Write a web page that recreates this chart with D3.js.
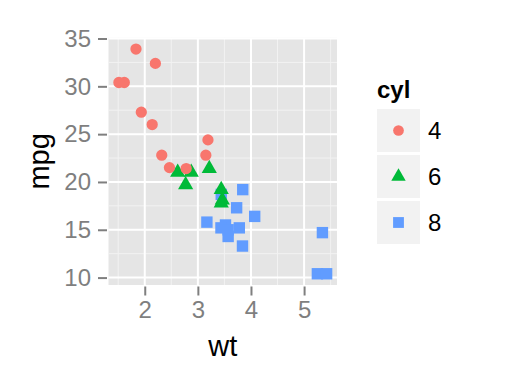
<!DOCTYPE html>
<html>
<head>
	<meta charset="utf-8">
	<title>mtcars wt vs mpg</title>
	<script src="https://d3js.org/d3.v7.min.js"></script>
	<style>
		body { margin: 0; background: #fff; }
		text { font-family: "Liberation Sans", Arial, sans-serif; }
	</style>
</head>
<body>
	<div class="chart"></div>

	<script type="text/javascript">
		// data (mtcars: wt, mpg, cyl), in row order so overlap matches
		const wt = [2.620, 2.875, 2.320, 3.215, 3.440, 3.460, 3.570, 3.190, 3.150, 3.440, 3.440,
			4.070, 3.730, 3.780, 5.250, 5.424, 5.345, 2.200, 1.615, 1.835, 2.465, 3.520, 3.435,
			3.840, 3.845, 1.935, 2.140, 1.513, 3.170, 2.770, 3.570, 2.780]
		const mpg = [21.0, 21.0, 22.8, 21.4, 18.7, 18.1, 14.3, 24.4, 22.8, 19.2, 17.8,
			16.4, 17.3, 15.2, 10.4, 10.4, 14.7, 32.4, 30.4, 33.9, 21.5, 15.5, 15.2,
			13.3, 19.2, 27.3, 26.0, 30.4, 15.8, 19.7, 15.0, 21.4]
		const cyl = [6, 6, 4, 6, 8, 6, 8, 4, 4, 6, 6,
			8, 8, 8, 8, 8, 8, 4, 4, 4, 4, 8, 8,
			8, 8, 4, 4, 4, 8, 6, 8, 4]
		const cylLevels = [4, 6, 8]
		const xTicks = [2, 3, 4, 5]
		const yTicks = [10, 15, 20, 25, 30, 35]

		const width = 518
		const height = 384
		const panel = { left: 108.5, right: 337, top: 37.8, bottom: 285 }

		const svg = d3.select('.chart').append('svg')
			.attr('width', width)
			.attr('height', height)

		// ggplot style 5% expansion
		const xExt = d3.extent(wt), yExt = d3.extent(mpg)
		const xPad = (xExt[1] - xExt[0]) * 0.05, yPad = (yExt[1] - yExt[0]) * 0.05

		const xScale = d3.scaleLinear()
			.domain([xExt[0] - xPad, xExt[1] + xPad])
			.range([panel.left, panel.right])
		const yScale = d3.scaleLinear()
			.domain([yExt[0] - yPad, yExt[1] + yPad])
			.range([panel.bottom, panel.top])

		const color = d3.scaleOrdinal().domain(cylLevels).range(['#F8766D', '#00BA38', '#619CFF'])
		const shape = d3.scaleOrdinal().domain(cylLevels)
			.range([d3.symbolCircle, d3.symbolTriangle, d3.symbolSquare])
		const size = d3.scaleOrdinal().domain(cylLevels).range([100, 100, 130])

		// panel
		svg.append('rect')
			.attr('x', panel.left).attr('y', panel.top)
			.attr('width', panel.right - panel.left)
			.attr('height', panel.bottom - panel.top)
			.attr('fill', '#E5E5E5')

		const minorX = xTicks.map(d => d - 0.5).concat([xTicks[xTicks.length - 1] + 0.5])
		const minorY = yTicks.slice(1).map(d => d - 2.5)

		const grid = svg.append('g')
		grid.selectAll('.mx').data(minorX).join('line')
			.attr('x1', d => xScale(d)).attr('x2', d => xScale(d))
			.attr('y1', panel.top).attr('y2', panel.bottom)
			.attr('stroke', '#F2F2F2').attr('stroke-width', 1)
		grid.selectAll('.my').data(minorY).join('line')
			.attr('y1', d => yScale(d)).attr('y2', d => yScale(d))
			.attr('x1', panel.left).attr('x2', panel.right)
			.attr('stroke', '#F2F2F2').attr('stroke-width', 1)
		grid.selectAll('.gx').data(xTicks).join('line')
			.attr('x1', d => xScale(d)).attr('x2', d => xScale(d))
			.attr('y1', panel.top).attr('y2', panel.bottom)
			.attr('stroke', '#fff').attr('stroke-width', 2)
		grid.selectAll('.gy').data(yTicks).join('line')
			.attr('y1', d => yScale(d)).attr('y2', d => yScale(d))
			.attr('x1', panel.left).attr('x2', panel.right)
			.attr('stroke', '#fff').attr('stroke-width', 2)

		// axes
		const xAxis = d3.axisBottom(xScale).tickValues(xTicks).tickFormat(d3.format('d'))
			.tickSize(9).tickPadding(5)
		const yAxis = d3.axisLeft(yScale).tickValues(yTicks).tickFormat(d3.format('d'))
			.tickSize(9).tickPadding(7)

		svg.append('g')
			.attr('transform', `translate(0, ${panel.bottom + 1.5})`)
			.call(xAxis)
			.call(g => g.select('.domain').remove())
		svg.append('g')
			.attr('transform', `translate(${panel.left - 1.5}, 0)`)
			.call(yAxis)
			.call(g => g.select('.domain').remove())

		svg.selectAll('.tick line').attr('stroke', '#7F7F7F').attr('stroke-width', 2)
		svg.selectAll('.tick text')
			.attr('fill', '#7F7F7F')
			.style('font-size', '24px')
			.style('font-family', '"Liberation Sans", Arial, sans-serif')

		// points
		svg.append('g').selectAll('path')
			.data(wt.map((d, i) => ({ wt: d, mpg: mpg[i], cyl: cyl[i] })))
			.join('path')
			.attr('transform', d => `translate(${xScale(d.wt)}, ${yScale(d.mpg)})`)
			.attr('d', d => d3.symbol().type(shape(d.cyl)).size(size(d.cyl))())
			.attr('fill', d => color(d.cyl))

		// axis titles
		svg.append('text')
			.attr('x', (panel.left + panel.right) / 2)
			.attr('y', 356)
			.attr('text-anchor', 'middle')
			.style('font-size', '29px')
			.text('wt')
		svg.append('text')
			.attr('transform', `translate(49, ${(panel.top + panel.bottom) / 2}) rotate(-90)`)
			.attr('text-anchor', 'middle')
			.style('font-size', '29px')
			.text('mpg')

		// legend
		const legend = svg.append('g').attr('transform', 'translate(377, 0)')
		legend.append('text')
			.attr('x', 0).attr('y', 98)
			.style('font-size', '24px')
			.style('font-weight', 'bold')
			.text('cyl')

		const keys = legend.selectAll('.key').data(cylLevels).join('g')
			.attr('transform', (d, i) => `translate(0, ${109 + i * 46})`)
		keys.append('rect')
			.attr('width', 43).attr('height', 43)
			.attr('fill', '#F2F2F2')
		keys.append('path')
			.attr('transform', 'translate(21.5, 21.5)')
			.attr('d', d => d3.symbol().type(shape(d)).size(size(d) * 0.9)())
			.attr('fill', d => color(d))
		keys.append('text')
			.attr('x', 51).attr('y', 21.5)
			.attr('dy', '0.36em')
			.style('font-size', '24px')
			.text(d => d)
	</script>
</body>
</html>
